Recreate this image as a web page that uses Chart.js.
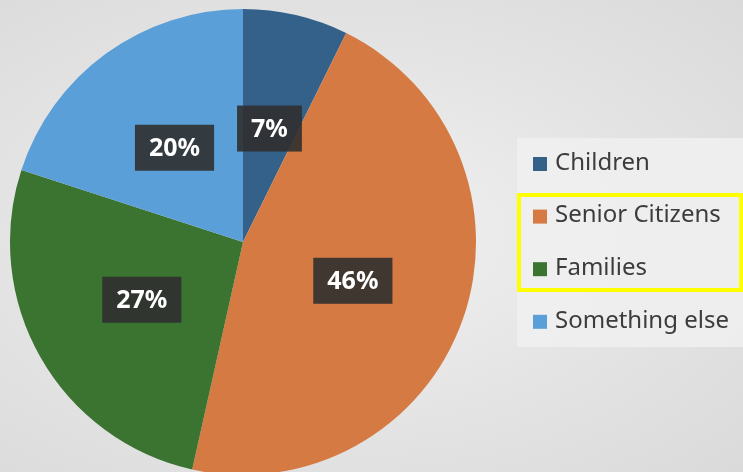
<!DOCTYPE html>
<html>
<head>
<meta charset="utf-8">
<script src="https://cdn.jsdelivr.net/npm/chart.js@4"></script>
<style>
  html, body { margin: 0; padding: 0; overflow: hidden; }
  body {
    width: 743px; height: 472px;
    background: radial-gradient(ellipse at 45% 50%, #f2f2f2 0%, #e4e4e4 55%, #dadada 100%);
  }
  #wrap { position: absolute; left: 0; top: 0; width: 743px; height: 486px; }
</style>
</head>
<body>
<div id="wrap"><canvas id="myChart"></canvas></div>
<script>
var categories = ["Children", "Senior Citizens", "Families", "Something else"];
var shares = [7.3, 46.2, 26.5, 20];
var sliceColors = ["#34618a", "#d47a42", "#3b7330", "#5b9fd8"];

// percentage boxes on the slices + the legend panel on the right
var decorations = {
  id: "decorations",
  afterDraw: function (chart) {
    var ctx = chart.ctx;
    var meta = chart.getDatasetMeta(0);
    ctx.save();
    ctx.font = "bold 25px 'Noto Sans', sans-serif";
    ctx.textAlign = "center";
    ctx.textBaseline = "middle";
    meta.data.forEach(function (arc, i) {
      var p = arc.tooltipPosition();
      var txt = Math.round(shares[i]) + "%";
      var w = ctx.measureText(txt).width + 28;
      var h = 46;
      ctx.fillStyle = "rgba(48,48,48,0.9)";
      ctx.fillRect(p.x - w / 2, p.y - h / 2, w, h);
      ctx.fillStyle = "#ffffff";
      ctx.fillText(txt, p.x, p.y + 1);
    });

    // legend
    ctx.fillStyle = "rgba(240,240,240,0.85)";
    ctx.fillRect(517, 138, 226, 209);
    ctx.font = "24px 'Noto Sans', sans-serif";
    ctx.textAlign = "left";
    categories.forEach(function (name, i) {
      var y = 163 + i * 52.6;
      ctx.fillStyle = sliceColors[i];
      ctx.fillRect(533, y - 6, 14, 14);
      ctx.fillStyle = "#3c3c3c";
      ctx.fillText(name, 555, y);
    });
    ctx.strokeStyle = "#ffff00";
    ctx.lineWidth = 4;
    ctx.strokeRect(519, 195, 222, 95);
    ctx.restore();
  }
};

var ctx = document.getElementById("myChart").getContext("2d");
var myChart = new Chart(ctx, {
  type: "pie",
  data: {
    labels: categories,
    datasets: [
      {
        data: shares,
        backgroundColor: sliceColors,
        borderWidth: 0,
      },
    ],
  },
  options: {
    responsive: true,
    maintainAspectRatio: false,
    animation: false,
    layout: {
      padding: { left: 10, right: 267, top: 9, bottom: 11 },
    },
    plugins: {
      legend: { display: false },
      tooltip: { enabled: false },
    },
  },
  plugins: [decorations],
});
</script>
</body>
</html>
